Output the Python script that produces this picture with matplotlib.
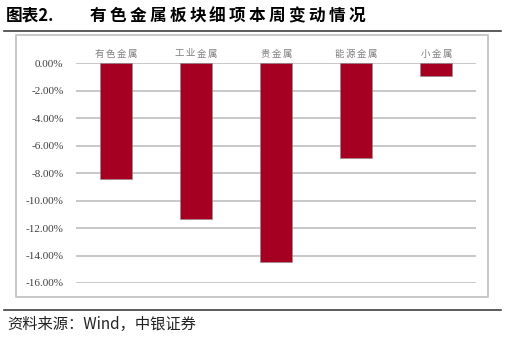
import numpy as np
import matplotlib
matplotlib.use("Agg")
import matplotlib.pyplot as plt
from matplotlib.patches import Rectangle
from matplotlib.lines import Line2D
from matplotlib.ticker import FuncFormatter

plt.rcParams['font.family'] = ['Noto Sans CJK SC', 'DejaVu Sans']

categories = ['有色金属', '工业金属', '贵金属', '能源金属', '小金属']
weekly_change = [-8.44, -11.35, -14.47, -6.91, -0.92]  # %
yticks = [0, -2, -4, -6, -8, -10, -12, -14, -16]

W, H = 505, 337
fig = plt.figure(figsize=(W / 100, H / 100), dpi=100)


def fx(px):
    return px / W


def fy(py):
    return 1 - py / H


def spaced_text(s, x0, y, pitch, **kw):
    # 逐字放置，模拟原图较宽的字距 (x0 为首字中心, 单位像素)
    for i, ch in enumerate(s):
        fig.text(fx(x0 + i * pitch), fy(y), ch, ha='center', va='center', **kw)


# 标题与分隔线
fig.text(fx(6), fy(16), '图表2.', fontsize=12, fontweight='bold', va='center', ha='left')
spaced_text('有色金属板块细项本周变动情况', 98, 16, 19.9, fontsize=12, fontweight='bold')
fig.add_artist(Line2D([fx(4), fx(501)], [fy(31), fy(31)], color='#404040', lw=1.2))
fig.add_artist(Line2D([fx(4), fx(501)], [fy(310), fy(310)], color='#404040', lw=1.2))
fig.text(fx(7), fy(324), '资料来源：Wind，中银证券', fontsize=11, va='center', ha='left',
         color='#222222')

# 图表外框
fig.add_artist(Rectangle((fx(16), fy(297)), fx(488) - fx(16), fy(35) - fy(297),
                         fill=False, edgecolor='#BFBFBF', lw=1.2))

# 绘图区
ax_l, ax_r, ax_t, ax_b = 76, 476, 63.3, 283
ax = fig.add_axes([fx(ax_l), fy(ax_b), fx(ax_r) - fx(ax_l), fy(ax_t) - fy(ax_b)])
x = np.arange(len(categories))
ax.bar(x, weekly_change, width=0.39, color='#A50021', edgecolor='#8C8C8C', linewidth=0.4, zorder=3)
ax.set_xlim(-0.5, len(categories) - 0.5)
ax.set_ylim(-16, 0)
ax.set_yticks(yticks)
ax.yaxis.set_major_formatter(FuncFormatter(lambda v, p: f'{v:.2f}%'))
ax.tick_params(axis='y', length=0, pad=9, labelsize=8, labelcolor='#404040',
               labelfontfamily='Liberation Serif')
ax.grid(axis='y', color='#BFBFBF', lw=1.2, zorder=0)
ax.set_xticks([])
for s in ax.spines.values():
    s.set_visible(False)

# 顶部类别标签
pitch = 11
for xi, name in zip(x, categories):
    cx = ax_l + (xi + 0.5) * (ax_r - ax_l) / len(categories)
    spaced_text(name, cx - pitch * (len(name) - 1) / 2, 54, pitch,
                fontsize=6.8, color='#7F7F7F')

fig.savefig('out.png', dpi=100)
